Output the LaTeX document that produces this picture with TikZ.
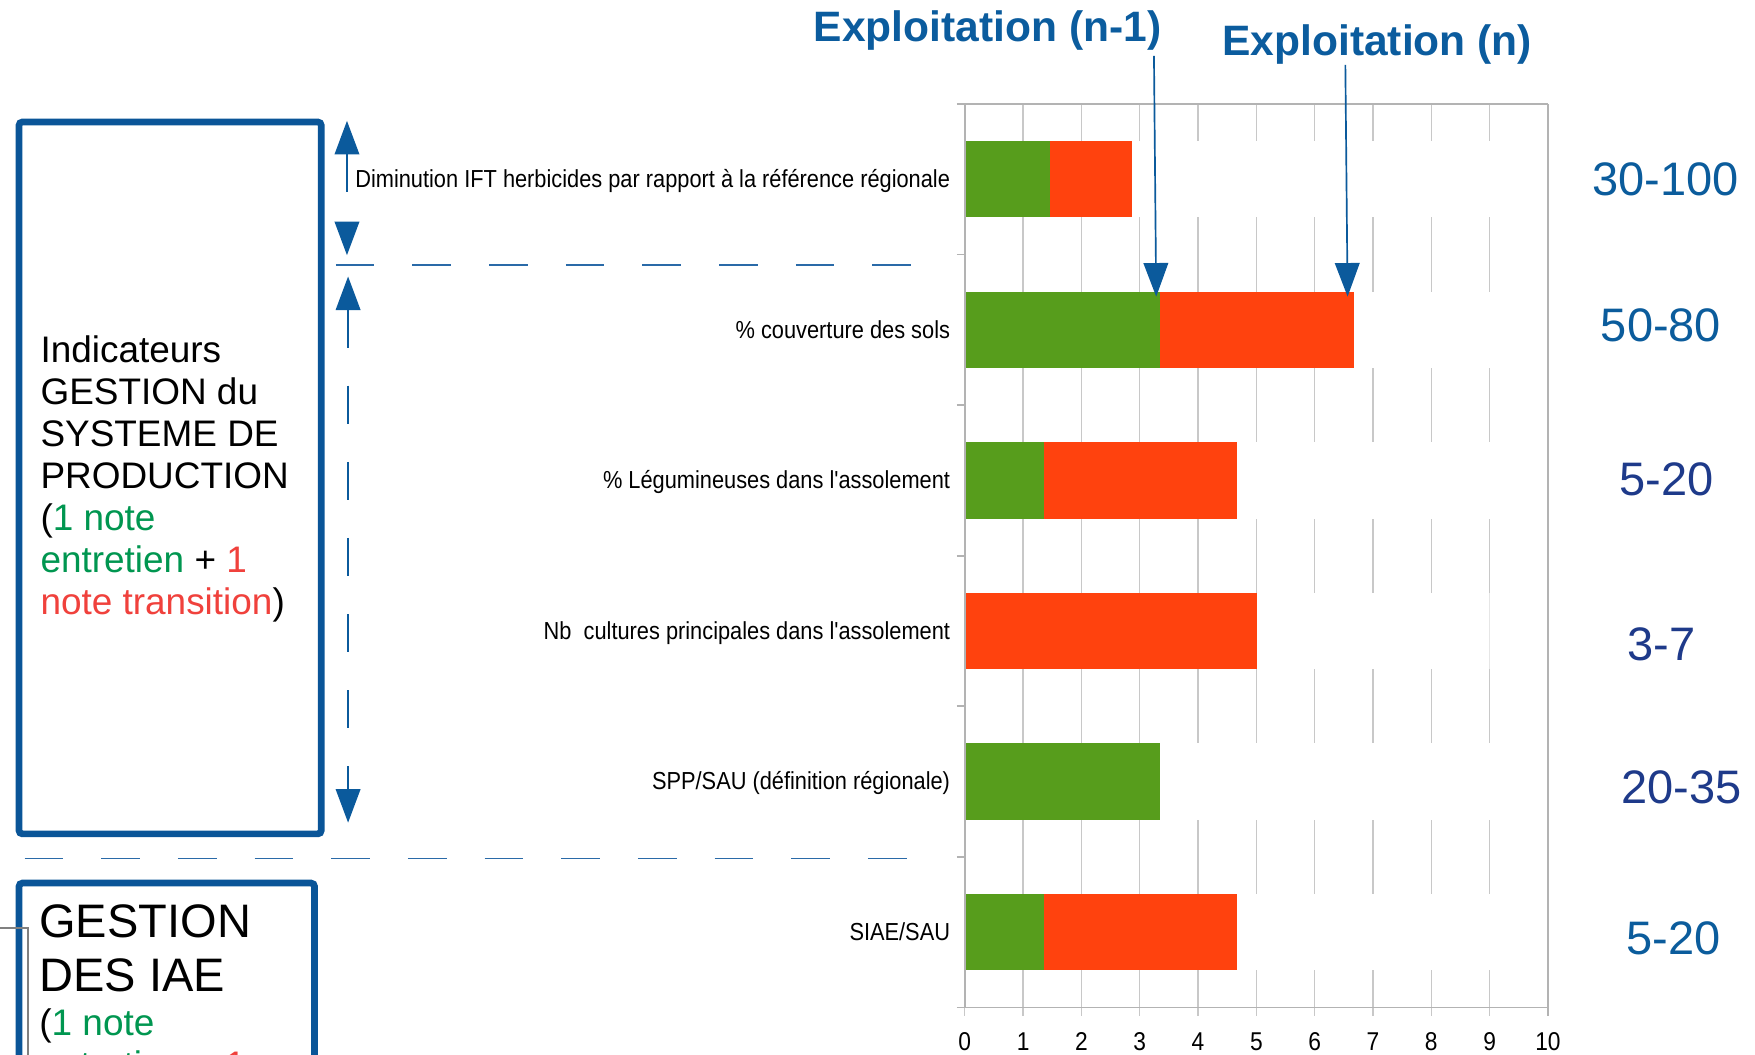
\documentclass[tikz,border=0pt]{standalone}
\usepackage{fontspec}
\setmainfont{Liberation Sans}
\newfontfamily\narrowfont[FakeStretch=0.885]{Liberation Sans}
\usetikzlibrary{arrows.meta}
\definecolor{boxblue}{HTML}{0A5598}
\definecolor{arrowblue}{HTML}{0B5A9C}
\definecolor{dashblue}{HTML}{2A6AA8}
\definecolor{titleblue}{HTML}{0B5C9E}
\definecolor{rangeblue}{HTML}{0B5C9C}
\definecolor{rangenavy}{HTML}{1E3A8A}
\definecolor{notegreen}{HTML}{009650}
\definecolor{notered}{HTML}{F0413C}
\definecolor{bargreen}{HTML}{579D1C}
\definecolor{barorange}{HTML}{FF420E}
\definecolor{axisgray}{HTML}{B3B3B3}
\definecolor{gridgray}{HTML}{C8C8C8}
\tikzset{
  boxframe/.style={draw=boxblue, line width=6pt, rounded corners=3pt, inner sep=0pt, anchor=north west},
  boxtext/.style={anchor=base west, inner sep=0pt, align=left},
  catlabel/.style={font=\narrowfont\fontsize{22}{26}\selectfont, anchor=base east, inner sep=0pt},
  ticklabel/.style={font=\narrowfont\fontsize{23}{26}\selectfont, anchor=base, inner sep=0pt},
  rangelabel/.style={font=\fontsize{42}{48}\selectfont, anchor=base, inner sep=0pt},
  toplabel/.style={font=\bfseries\fontsize{38}{44}\selectfont, text=titleblue, anchor=base west, inner sep=0pt},
  ptr/.style={draw=arrowblue, line width=1.5pt, -{Triangle[width=22pt,length=30pt]}},
  dimarrow/.style={draw=arrowblue, line width=1.5pt, dash pattern=on 34pt off 34pt,
    {Triangle[width=22pt,length=30pt]}-{Triangle[width=22pt,length=30pt]}},
  hdash/.style={draw=dashblue, line width=1.5pt, dash pattern=on 34.5pt off 34pt},
  gridline/.style={draw=gridgray, line width=1.2pt},
  axisline/.style={draw=axisgray, line width=1.5pt},
}
\begin{document}
\begin{tikzpicture}[x=1pt,y=-1pt]
\useasboundingbox (0,0) rectangle (1568,942);
\fill[white] (0,0) rectangle (1568,942);

% ---------- chart grid ----------
\foreach \i in {0,...,10} {
  \draw[gridline] ({862+52.1*\i},93) -- ({862+52.1*\i},908);
}
% bands hide the grid
\foreach \c in {160.25,294.75,429.25,563.75,698.25,832.75} {
  \fill[white] (862,\c-34) rectangle (1382,\c+34);
}
\draw[draw=gridgray!45, line width=1pt] (1330.9,529.75) -- (1330.9,597.75);

% ---------- bars ----------
\fill[bargreen]  (862,126.25) rectangle (938,194.25);
\fill[barorange] (938,126.25) rectangle (1011,194.25);
\fill[bargreen]  (862,260.75) rectangle (1036,328.75);
\fill[barorange] (1036,260.75) rectangle (1210,328.75);
\fill[bargreen]  (862,395.25) rectangle (933,463.25);
\fill[barorange] (933,395.25) rectangle (1105,463.25);
\fill[barorange] (862,529.75) rectangle (1123,597.75);
\fill[bargreen]  (862,664.25) rectangle (1036,732.25);
\fill[bargreen]  (862,798.75) rectangle (933,866.75);
\fill[barorange] (933,798.75) rectangle (1105,866.75);

% ---------- axes ----------
\draw[axisline] (862,93) -- (862,900);
\draw[axisline] (1383,93) -- (1383,908);
\draw[axisline] (855,93) -- (1383,93);
\draw[axisline] (855,900) -- (1383,900);
\foreach \y in {227.5,362,496.5,631,765.5} {
  \draw[axisline] (855,\y) -- (862,\y);
}

% ---------- tick labels ----------
\foreach \i in {0,...,10} {
  \node[ticklabel] (t\i) at ({862+52.1*\i},938.5) {\i};
}

% ---------- category labels ----------
\node[catlabel] (c1) at (849,167.5) {Diminution IFT herbicides par rapport à la référence régionale};
\node[catlabel] (c2) at (849,302) {\% couverture des sols};
\node[catlabel] (c3) at (849,436.5) {\% Légumineuses dans l'assolement};
\node[catlabel] (c4) at (849,571) {Nb\ \ cultures principales dans l'assolement};
\node[catlabel] (c5) at (849,705.5) {SPP/SAU (définition régionale)};
\node[catlabel] (c6) at (849,840) {SIAE/SAU};

% ---------- range labels ----------
\node[rangelabel, text=rangeblue] (r1) at (1488,175) {30-100};
\node[rangelabel, text=rangeblue] (r2) at (1484,305) {50-80};
\node[rangelabel, text=rangenavy] (r3) at (1489,443) {5-20};
\node[rangelabel, text=rangenavy] (r4) at (1484.5,590) {3-7};
\node[rangelabel, text=rangenavy] (r5) at (1502.5,718) {20-35};
\node[rangelabel, text=rangeblue] (r6) at (1495.5,853) {5-20};

% ---------- top labels and pointers ----------
\node[toplabel] (exn1) at (727,37) {Exploitation (n-1)};
\node[toplabel] (exn) at (1092,50) {Exploitation (n)};
\coordinate (n1top) at (1031,50);
\coordinate (n1tip) at (1033,265);
\coordinate (ntop) at (1202,58);
\coordinate (ntip) at (1204,265);
\draw[ptr] (n1top) -- (n1tip);
\draw[ptr] (ntop) -- (ntip);

% ---------- left boxes ----------
\node[boxframe, minimum width=270pt, minimum height=636pt] (box1) at (14,106) {};
\node[boxtext, font=\fontsize{33}{37.5}\selectfont] (box1txt) at (36,549)
  {Indicateurs\\GESTION du\\SYSTEME DE\\PRODUCTION\\(\textcolor{notegreen}{1 note}\\\textcolor{notegreen}{entretien} + \textcolor{notered}{1}\\\textcolor{notered}{note transition})};

\node[boxframe, minimum width=264pt, minimum height=200pt] (box2) at (14,786) {};
\node[boxtext, font=\fontsize{42}{48}\selectfont] (box2title) at (35,886) {GESTION\\DES IAE};
\node[boxtext, font=\fontsize{33}{37.5}\selectfont] (box2note) at (35,962.5)
  {(\textcolor{notegreen}{1 note}\\\textcolor{notegreen}{entretien} + \textcolor{notered}{1}};

\draw[draw=gray, line width=1.5pt] (0,829) -- (25,829) -- (25,960);

% ---------- dimension arrows and dashed separators ----------
\coordinate (d1a) at (310,108);
\coordinate (d1b) at (310,228);
\coordinate (d2a) at (311,247);
\coordinate (d2b) at (311,735);
\draw[dimarrow] (d1a) -- (d1b);
\draw[dimarrow] (d2a) -- (d2b);
\coordinate (h1a) at (300,237);
\coordinate (h1b) at (818,237);
\coordinate (h2a) at (22,767);
\coordinate (h2b) at (812,767);
\draw[hdash] (h1a) -- (h1b);
\draw[hdash] (h2a) -- (h2b);
\end{tikzpicture}
\end{document}
